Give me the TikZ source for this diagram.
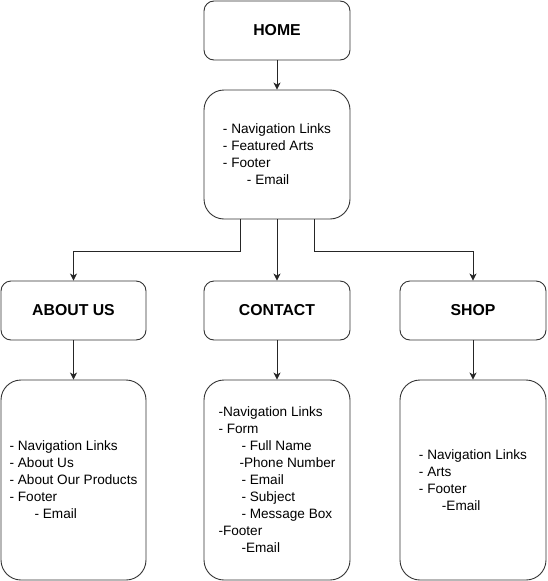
\documentclass[tikz,border=0pt]{standalone}
\usepackage{fontspec}
\setmainfont{Liberation Sans}
\usetikzlibrary{arrows.meta}
\begin{document}
\begin{tikzpicture}[x=1pt,y=-1pt,
  titlebox/.style={draw=black!80, line width=0.9pt, rounded corners=10pt, minimum width=146pt, minimum height=59pt, inner sep=0pt, font={\fontsize{15.8}{18}\selectfont\bfseries}},
  listbox/.style={draw=black!80, line width=0.9pt, rounded corners=20pt, minimum width=146pt, inner sep=0pt, align=left, font={\fontsize{13.6}{17}\selectfont}},
  arr/.style={draw=black!85, line width=0.9pt, -{Stealth[length=7pt,width=7pt,inset=2pt]}}
]
\useasboundingbox (0,0) rectangle (547,581);
\node[titlebox] (home) at (277,30.5) {HOME};
\node[listbox, minimum height=129pt] (homec) at (277,154.5) {- Navigation Links\\- Featured Arts\\- Footer\\\hspace*{24pt}- Email};
\node[titlebox, minimum width=145pt] (about) at (73.5,310.5) {ABOUT US};
\node[titlebox] (contact) at (277,310.5) {CONTACT};
\node[titlebox] (shop) at (473,310.5) {SHOP};
\node[listbox, minimum width=145pt, minimum height=200pt] (aboutc) at (73.5,480) {- Navigation Links\\- About Us\\- About Our Products\\- Footer\\\hspace*{25pt}- Email};
\node[listbox, minimum height=200pt] (contactc) at (277,480) {-Navigation Links\\- Form\\\hspace*{23pt}- Full Name\\\hspace*{21pt}-Phone Number\\\hspace*{23pt}- Email\\\hspace*{23pt}- Subject\\\hspace*{23pt}- Message Box\\-Footer\\\hspace*{23pt}-Email};
\node[listbox, minimum height=200pt] (shopc) at (473,480) {- Navigation Links\\- Arts\\- Footer\\\hspace*{23pt}-Email};
\draw[arr] (home) -- (homec);
\draw[arr] ([xshift=-37pt]homec.south) -- ++(0,32) -| (about.north);
\draw[arr] (homec) -- (contact);
\draw[arr] ([xshift=37pt]homec.south) -- ++(0,32) -| (shop.north);
\draw[arr] (about) -- (aboutc);
\draw[arr] (contact) -- (contactc);
\draw[arr] (shop) -- (shopc);
\end{tikzpicture}
\end{document}
